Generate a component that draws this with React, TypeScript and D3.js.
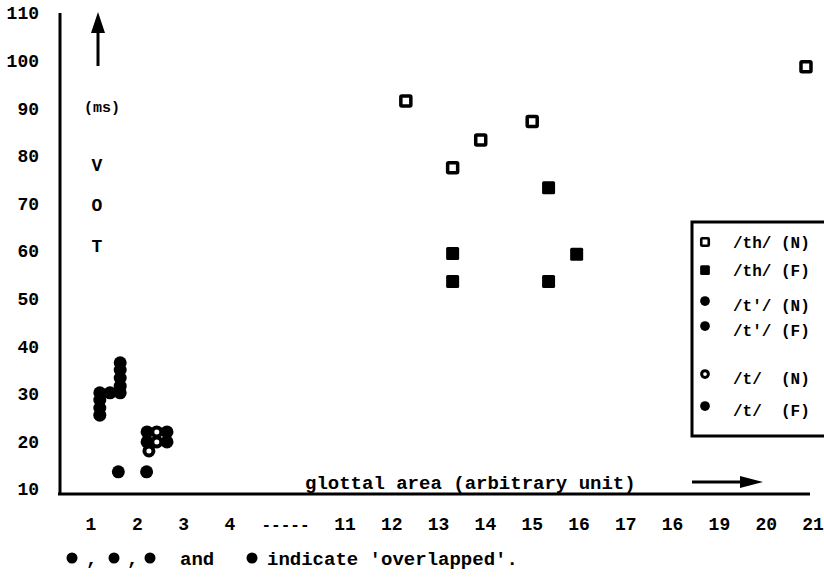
import React, { useEffect, useRef } from 'react';
import * as d3 from 'd3';

// tick labels
const xTicks = [1, 2, 3, 4, 11, 12, 13, 14, 15, 16, 17, 18, 19, 20, 21];
const xTickText = ['1', '2', '3', '4', '11', '12', '13', '14', '15', '16', '17', '16', '19', '20', '21'];
const yTicks = [10, 20, 30, 40, 50, 60, 70, 80, 90, 100, 110];

// series (glottal area, VOT ms)
const thN = [[12.3, 91.5], [13.3, 77.5], [13.9, 83.3], [15.0, 87.2], [20.85, 98.7]];
const thF = [[15.35, 73.3], [13.3, 59.5], [15.95, 59.3], [13.3, 53.6], [15.35, 53.6]];
const tpN = [[1.63, 36.5], [1.63, 35.0], [1.63, 33.3], [1.63, 31.6], [1.63, 30.2]];
const tpF = [[1.41, 30.2], [1.19, 30.2], [1.19, 28.7], [1.19, 27.0], [1.19, 25.5]];
const tN = [[2.42, 22.0], [2.42, 19.9], [2.25, 18.0]];
const tF = [[2.21, 22.0], [2.21, 19.9], [2.64, 22.0], [2.64, 19.9], [1.59, 13.6], [2.2, 13.6]];

const legendItems = [
  { label: '/th/ (N)', shape: 'openSquare' },
  { label: '/th/ (F)', shape: 'square' },
  { label: "/t'/ (N)", shape: 'circle' },
  { label: "/t'/ (F)", shape: 'circle' },
  { label: '/t/  (N)', shape: 'openCircle' },
  { label: '/t/  (F)', shape: 'circle' },
];

const FONT = "'Liberation Mono', 'DejaVu Sans Mono', monospace";

const App = () => {
  const chartRef = useRef<HTMLDivElement>(null);

  useEffect(() => {
    drawChart();
  }, []);

  const drawChart = () => {
    const width = 824;
    const height = 577;

    d3.select(chartRef.current).select('svg').remove();

    const svg = d3.select(chartRef.current)
      .append('svg')
      .attr('width', width)
      .attr('height', height)
      .style('position', 'absolute')
      .style('left', 0)
      .style('top', 0)
      .style('background', '#fff');

    // broken x axis: 1..4 then 11..21
    const x = d3.scaleLinear().domain([1, 4, 11, 21]).range([91, 230, 345, 813]);
    const y = d3.scaleLinear().domain([10, 110]).range([489, 13]);

    // axes
    svg.append('line')
      .attr('x1', 60).attr('y1', 13).attr('x2', 60).attr('y2', 495)
      .style('stroke', '#000').style('stroke-width', 3);
    svg.append('line')
      .attr('x1', 58).attr('y1', 494).attr('x2', 810).attr('y2', 494)
      .style('stroke', '#000').style('stroke-width', 3);

    // y tick labels
    svg.selectAll('.ytick')
      .data(yTicks)
      .enter().append('text')
      .attr('class', 'ytick')
      .attr('x', 39)
      .attr('y', d => y(d))
      .attr('dy', '0.35em')
      .attr('text-anchor', 'end')
      .style('font-family', FONT)
      .style('font-weight', 'bold')
      .style('font-size', '18px')
      .text(d => d);

    // x tick labels
    svg.selectAll('.xtick')
      .data(xTicks)
      .enter().append('text')
      .attr('class', 'xtick')
      .attr('x', d => x(d))
      .attr('y', 524)
      .attr('dy', '0.35em')
      .attr('text-anchor', 'middle')
      .style('font-family', FONT)
      .style('font-weight', 'bold')
      .style('font-size', '18px')
      .text((d, i) => xTickText[i]);

    svg.append('text')
      .attr('x', (x(4) + x(11)) / 2 - 2)
      .attr('y', 524)
      .attr('dy', '0.35em')
      .attr('text-anchor', 'middle')
      .style('font-family', FONT)
      .style('font-weight', 'bold')
      .style('font-size', '16px')
      .text('-----');

    // y axis title with arrow
    svg.append('line')
      .attr('x1', 98).attr('y1', 30).attr('x2', 98).attr('y2', 66)
      .style('stroke', '#000').style('stroke-width', 3);
    svg.append('path')
      .attr('d', 'M98,12 L91,33 L105,33 Z')
      .style('fill', '#000');
    svg.append('text')
      .attr('x', 102).attr('y', 107).attr('dy', '0.35em')
      .attr('text-anchor', 'middle')
      .style('font-family', FONT).style('font-weight', 'bold').style('font-size', '15px')
      .text('(ms)');
    ['V', 'O', 'T'].forEach((ch, i) => {
      svg.append('text')
        .attr('x', 97).attr('y', [165, 205, 246][i]).attr('dy', '0.35em')
        .attr('text-anchor', 'middle')
        .style('font-family', FONT).style('font-weight', 'bold').style('font-size', '18px')
        .text(ch);
    });

    // x axis title with arrow
    svg.append('text')
      .attr('x', 305).attr('y', 482).attr('dy', '0.35em')
      .style('font-family', FONT).style('font-weight', 'bold').style('font-size', '19px')
      .text('glottal area (arbitrary unit)');
    svg.append('line')
      .attr('x1', 692).attr('y1', 482).attr('x2', 745).attr('y2', 482)
      .style('stroke', '#000').style('stroke-width', 3);
    svg.append('path')
      .attr('d', 'M763,482 L740,476 L740,488 Z')
      .style('fill', '#000');

    // marks
    const drawShape = (g, shape, cx, cy, big) => {
      const s = big ? 1 : 0.75;
      if (shape === 'openSquare') {
        g.append('rect')
          .attr('x', cx - 5 * s).attr('y', cy - 5 * s)
          .attr('width', 10 * s).attr('height', 10 * s)
          .attr('rx', 1)
          .style('fill', '#fff').style('stroke', '#000').style('stroke-width', 3.5 * s);
      } else if (shape === 'square') {
        g.append('rect')
          .attr('x', cx - 6.5 * s).attr('y', cy - 6.5 * s)
          .attr('width', 13 * s).attr('height', 13 * s)
          .attr('rx', 1.5)
          .style('fill', '#000');
      } else if (shape === 'openCircle') {
        g.append('circle')
          .attr('cx', cx).attr('cy', cy).attr('r', 4.5 * s)
          .style('fill', '#fff').style('stroke', '#000').style('stroke-width', 4 * s);
      } else {
        g.append('circle')
          .attr('cx', cx).attr('cy', cy).attr('r', 6.5 * s)
          .style('fill', '#000');
      }
    };

    const marks = svg.append('g');
    const series = [
      { data: tN, shape: 'openCircle' },
      { data: tpN, shape: 'circle' },
      { data: tpF, shape: 'circle' },
      { data: tF, shape: 'circle' },
      { data: thN, shape: 'openSquare' },
      { data: thF, shape: 'square' },
    ];
    series.forEach(sr => {
      sr.data.forEach(d => drawShape(marks, sr.shape, x(d[0]), y(d[1]), true));
    });

    // legend
    const legend = svg.append('g');
    legend.append('rect')
      .attr('x', 692).attr('y', 222).attr('width', 150).attr('height', 214)
      .style('fill', '#fff').style('stroke', '#000').style('stroke-width', 3);
    const rowY = [242, 270, 305, 330, 378, 410];
    legendItems.forEach((item, i) => {
      drawShape(legend, item.shape, 705, rowY[i] - (item.shape === 'circle' || item.shape === 'openCircle' ? 4 : 0), false);
      legend.append('text')
        .attr('x', 733).attr('y', rowY[i]).attr('dy', '0.35em')
        .style('white-space', 'pre')
        .style('font-family', FONT).style('font-weight', 'bold').style('font-size', '16px')
        .text(item.label);
    });

    // caption
    const cy = 558;
    [72, 114, 150, 252].forEach(cx => {
      svg.append('circle').attr('cx', cx).attr('cy', cy).attr('r', 5.5).style('fill', '#000');
    });
    [[86, ','], [127, ','], [180, 'and'], [267, "indicate 'overlapped'."]].forEach(([tx, str]) => {
      svg.append('text')
        .attr('x', tx).attr('y', cy).attr('dy', '0.35em')
        .style('font-family', FONT).style('font-weight', 'bold').style('font-size', '19px')
        .text(str);
    });
  };

  return (
    <div ref={chartRef}></div>
  );
};

export default App;
